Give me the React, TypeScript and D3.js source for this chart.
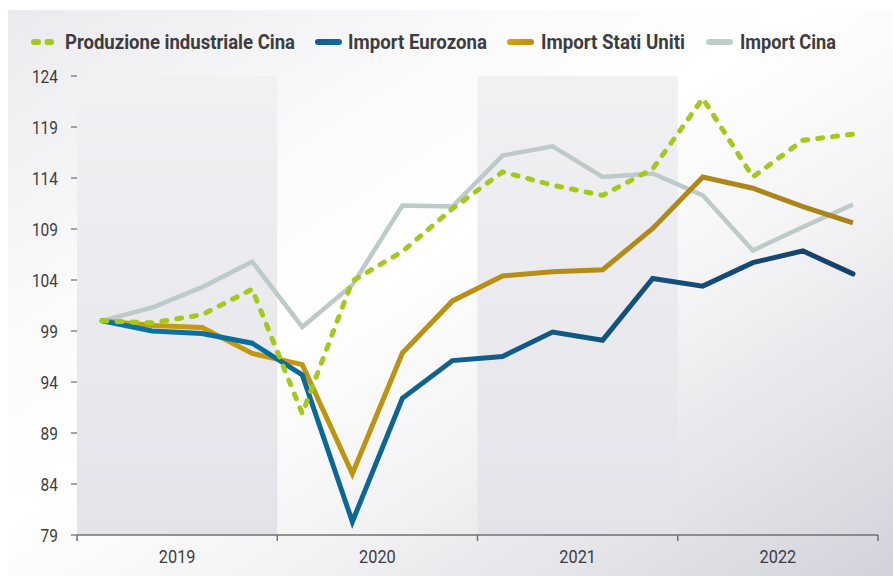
import React from "react";
import * as d3 from "d3";

const years = ["2019", "2020", "2021", "2022"];
const yTicks = [79, 84, 89, 94, 99, 104, 109, 114, 119, 124];

const produzioneCina = [100, 99.8, 100.6, 103.1, 90.9, 103.9, 106.8, 111.0, 114.6, 113.3, 112.3, 114.9, 121.8, 114.1, 117.7, 118.3];
const importEurozona = [100, 99.0, 98.75, 97.8, 94.7, 80.3, 92.4, 96.1, 96.5, 98.9, 98.1, 104.15, 103.4, 105.7, 106.85, 104.6];
const importStatiUniti = [100, 99.55, 99.35, 96.8, 95.7, 85.0, 96.85, 101.95, 104.4, 104.8, 105.0, 109.05, 114.1, 113.0, 111.2, 109.6];
const importCina = [100, 101.3, 103.3, 105.8, 99.4, 103.5, 111.3, 111.2, 116.2, 117.1, 114.1, 114.45, 112.3, 106.9, 109.2, 111.4];

const W = 893;
const H = 576;

export default function App() {
  const x = d3.scaleLinear().domain([-0.5, 15.5]).range([77, 878]);
  const y = d3.scaleLinear().domain([79, 124]).range([535, 76]);
  const line = d3
    .line<number>()
    .x((_, i) => x(i))
    .y((d) => y(d));

  const font = "Roboto, 'Noto Sans', sans-serif";
  const textColor = "#3d3d3f";

  const legend = [
    { label: "Produzione industriale Cina", sx: 31, tx: 65, tw: 230, kind: "green" },
    { label: "Import Eurozona", sx: 315, tx: 348, tw: 139, kind: "blue" },
    { label: "Import Stati Uniti", sx: 507, tx: 541, tw: 144, kind: "gold" },
    { label: "Import Cina", sx: 706, tx: 740, tw: 96, kind: "gray" },
  ];

  return (
    <svg
      width={W}
      height={H}
      style={{ position: "absolute", left: 0, top: 0 }}
      xmlns="http://www.w3.org/2000/svg"
    >
      <defs>
        <linearGradient id="bg" x1="0" y1="0" x2="1" y2="1">
          <stop offset="0" stopColor="#ebebef" />
          <stop offset="0.3" stopColor="#fbfbfc" />
          <stop offset="0.45" stopColor="#ffffff" />
          <stop offset="0.65" stopColor="#f3f3f5" />
          <stop offset="1" stopColor="#d2d2db" />
        </linearGradient>
        <linearGradient id="band" x1="0" y1="0" x2="0" y2="1">
          <stop offset="0" stopColor="#f1f1f4" />
          <stop offset="1" stopColor="#e3e3e9" />
        </linearGradient>
        <linearGradient id="blueGrad" gradientUnits="userSpaceOnUse" x1={x(0)} y1="0" x2={x(15)} y2="0">
          <stop offset="0" stopColor="#0676a8" />
          <stop offset="0.45" stopColor="#10618e" />
          <stop offset="1" stopColor="#17406b" />
        </linearGradient>
        <linearGradient id="goldGrad" gradientUnits="userSpaceOnUse" x1={x(0)} y1="0" x2={x(15)} y2="0">
          <stop offset="0" stopColor="#c79e0d" />
          <stop offset="1" stopColor="#a9821a" />
        </linearGradient>
        <linearGradient id="blueSw" x1="0" y1="0" x2="1" y2="0">
          <stop offset="0" stopColor="#1a5a8c" />
          <stop offset="1" stopColor="#0b6d9e" />
        </linearGradient>
        <linearGradient id="goldSw" x1="0" y1="0" x2="1" y2="0">
          <stop offset="0" stopColor="#d1a610" />
          <stop offset="1" stopColor="#b98f12" />
        </linearGradient>
      </defs>

      <rect x={8} y={10} width={W - 8} height={H - 10} fill="url(#bg)" />

      {/* year bands */}
      {[0, 2].map((yi) => (
        <rect
          key={yi}
          x={x(yi * 4 - 0.5)}
          y={y(124)}
          width={x(yi * 4 + 3.5) - x(yi * 4 - 0.5)}
          height={y(79) - y(124)}
          fill="url(#band)"
        />
      ))}

      {/* y axis ticks */}
      {yTicks.map((t) => (
        <g key={t}>
          <line x1={71} x2={77} y1={y(t)} y2={y(t)} stroke="#6b6b6b" strokeWidth={1.2} />
          <text
            transform={`translate(58,${y(t) + 6.5}) scale(0.86,1)`}
            textAnchor="end"
            fontFamily={font}
            fontSize={18}
            fill={textColor}
          >
            {t}
          </text>
        </g>
      ))}

      {/* x axis */}
      <line x1={x(-0.5)} x2={x(15.5)} y1={535} y2={535} stroke="#707070" strokeWidth={1.5} />
      {d3.range(5).map((k) => (
        <line
          key={k}
          x1={x(k * 4 - 0.5)}
          x2={x(k * 4 - 0.5)}
          y1={535}
          y2={541}
          stroke="#707070"
          strokeWidth={1.5}
        />
      ))}
      {years.map((yr, k) => (
        <text
          key={yr}
          transform={`translate(${x(k * 4 + 1.5)},563) scale(0.88,1)`}
          textAnchor="middle"
          fontFamily={font}
          fontSize={18.5}
          fill={textColor}
        >
          {yr}
        </text>
      ))}

      {/* lines */}
      <path d={line(importCina) || ""} fill="none" stroke="#bccac8" strokeWidth={4.5} strokeLinejoin="miter" />
      <path d={line(importStatiUniti) || ""} fill="none" stroke="url(#goldGrad)" strokeWidth={5} strokeLinejoin="miter" />
      <path d={line(importEurozona) || ""} fill="none" stroke="url(#blueGrad)" strokeWidth={5} strokeLinejoin="miter" strokeLinecap="round" />
      <path
        d={line(produzioneCina) || ""}
        fill="none"
        stroke="#a3c91d"
        strokeWidth={5}
        strokeDasharray="5 10"
        strokeLinecap="round"
        strokeLinejoin="round"
      />

      {/* legend */}
      {legend.map((l) => (
        <g key={l.label}>
          {l.kind === "green" ? (
            <line
              x1={l.sx + 3}
              x2={l.sx + 20}
              y1={42}
              y2={42}
              stroke="#a3c91d"
              strokeWidth={6}
              strokeLinecap="round"
              strokeDasharray="4 9.5"
            />
          ) : (
            <rect
              x={l.sx}
              y={39}
              width={27}
              height={6}
              rx={3}
              fill={l.kind === "blue" ? "url(#blueSw)" : l.kind === "gold" ? "url(#goldSw)" : "#c0cdcb"}
            />
          )}
          <text
            x={l.tx}
            y={48.5}
            fontFamily={font}
            fontWeight={700}
            fontSize={19.5}
            fill={textColor}
            textLength={l.tw}
            lengthAdjust="spacingAndGlyphs"
          >
            {l.label}
          </text>
        </g>
      ))}
    </svg>
  );
}
